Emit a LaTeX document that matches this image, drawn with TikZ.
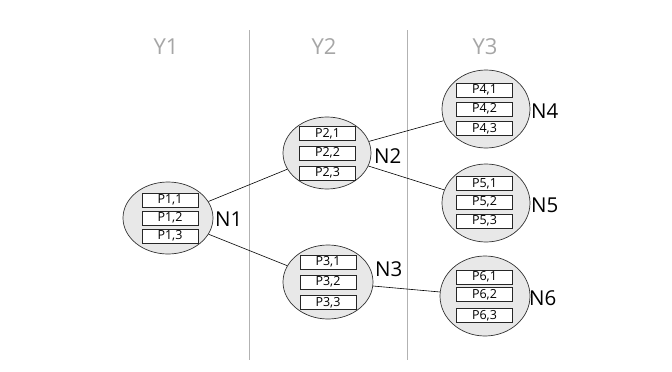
\documentclass[tikz,border=0pt]{standalone}
\usepackage{fontspec}
\setmainfont{Open Sans}
\usetikzlibrary{shapes.geometric}
\tikzset{
  grp/.style={ellipse, draw=black!80, fill=black!9, line width=0.7pt, minimum width=88pt, minimum height=74pt, inner sep=0pt},
  pbox/.style={draw=black!85, fill=white, line width=0.6pt, minimum width=56pt, minimum height=14pt, inner sep=0pt, font=\fontsize{12.5}{13}\selectfont},
  glab/.style={anchor=west, inner sep=0pt, font=\fontsize{20.5}{21}\selectfont},
  yhead/.style={text=black!35, inner sep=0pt, font=\fontsize{22}{23}\selectfont},
  sep/.style={draw=black!30, line width=0.8pt},
  link/.style={draw=black, line width=0.6pt}
}
\begin{document}
\begin{tikzpicture}[x=1pt,y=-1pt]
\useasboundingbox (0,0) rectangle (672,372);
% column separators
\coordinate (s1t) at (249,30); \coordinate (s1b) at (249,360);
\coordinate (s2t) at (407,30); \coordinate (s2b) at (407,360);
\draw[sep] (s1t) -- (s1b);
\draw[sep] (s2t) -- (s2b);
\node[yhead] (Y1) at (166,47) {Y1};
\node[yhead] (Y2) at (324,47) {Y2};
\node[yhead] (Y3) at (485,47) {Y3};
% groups
\node[grp, minimum width=90pt, minimum height=72pt] (N1) at (168,218) {};
\node[grp, minimum width=88pt, minimum height=72pt] (N2) at (327,153) {};
\node[grp, minimum width=90pt, minimum height=74pt] (N3) at (328,282) {};
\node[grp, minimum width=88pt, minimum height=78pt] (N4) at (486,109) {};
\node[grp, minimum width=88pt, minimum height=78pt] (N5) at (486,203) {};
\node[grp, minimum width=90pt, minimum height=80pt] (N6) at (485,296) {};
% boxes
\node[pbox] (p11) at (170,200) {P1,1};
\node[pbox] (p12) at (170,218) {P1,2};
\node[pbox] (p13) at (170,236) {P1,3};
\node[pbox] (p21) at (327.5,133.5) {P2,1};
\node[pbox] (p22) at (327.5,153) {P2,2};
\node[pbox] (p23) at (327.5,173) {P2,3};
\node[pbox] (p31) at (328,262) {P3,1};
\node[pbox] (p32) at (328,282) {P3,2};
\node[pbox] (p33) at (328,302.5) {P3,3};
\node[pbox] (p41) at (484.5,90) {P4,1};
\node[pbox] (p42) at (484.5,109) {P4,2};
\node[pbox] (p43) at (484.5,128.5) {P4,3};
\node[pbox] (p51) at (484.5,183.5) {P5,1};
\node[pbox] (p52) at (484.5,202) {P5,2};
\node[pbox] (p53) at (484.5,221) {P5,3};
\node[pbox] (p61) at (484.5,277) {P6,1};
\node[pbox] (p62) at (484.5,294.5) {P6,2};
\node[pbox] (p63) at (484.5,315.5) {P6,3};
% labels
\node[glab] (l1) at (215,219) {N1};
\node[glab] (l2) at (374,156) {N2};
\node[glab] (l3) at (375,269) {N3};
\node[glab] (l4) at (531,111) {N4};
\node[glab] (l5) at (531,205) {N5};
\node[glab] (l6) at (529,298) {N6};
% links
\draw[link] (N1) -- (N2);
\draw[link] (N1) -- (N3);
\draw[link] (N2) -- (N4);
\draw[link] (N2) -- (N5);
\draw[link] (N3) -- (N6);
\end{tikzpicture}
\end{document}
